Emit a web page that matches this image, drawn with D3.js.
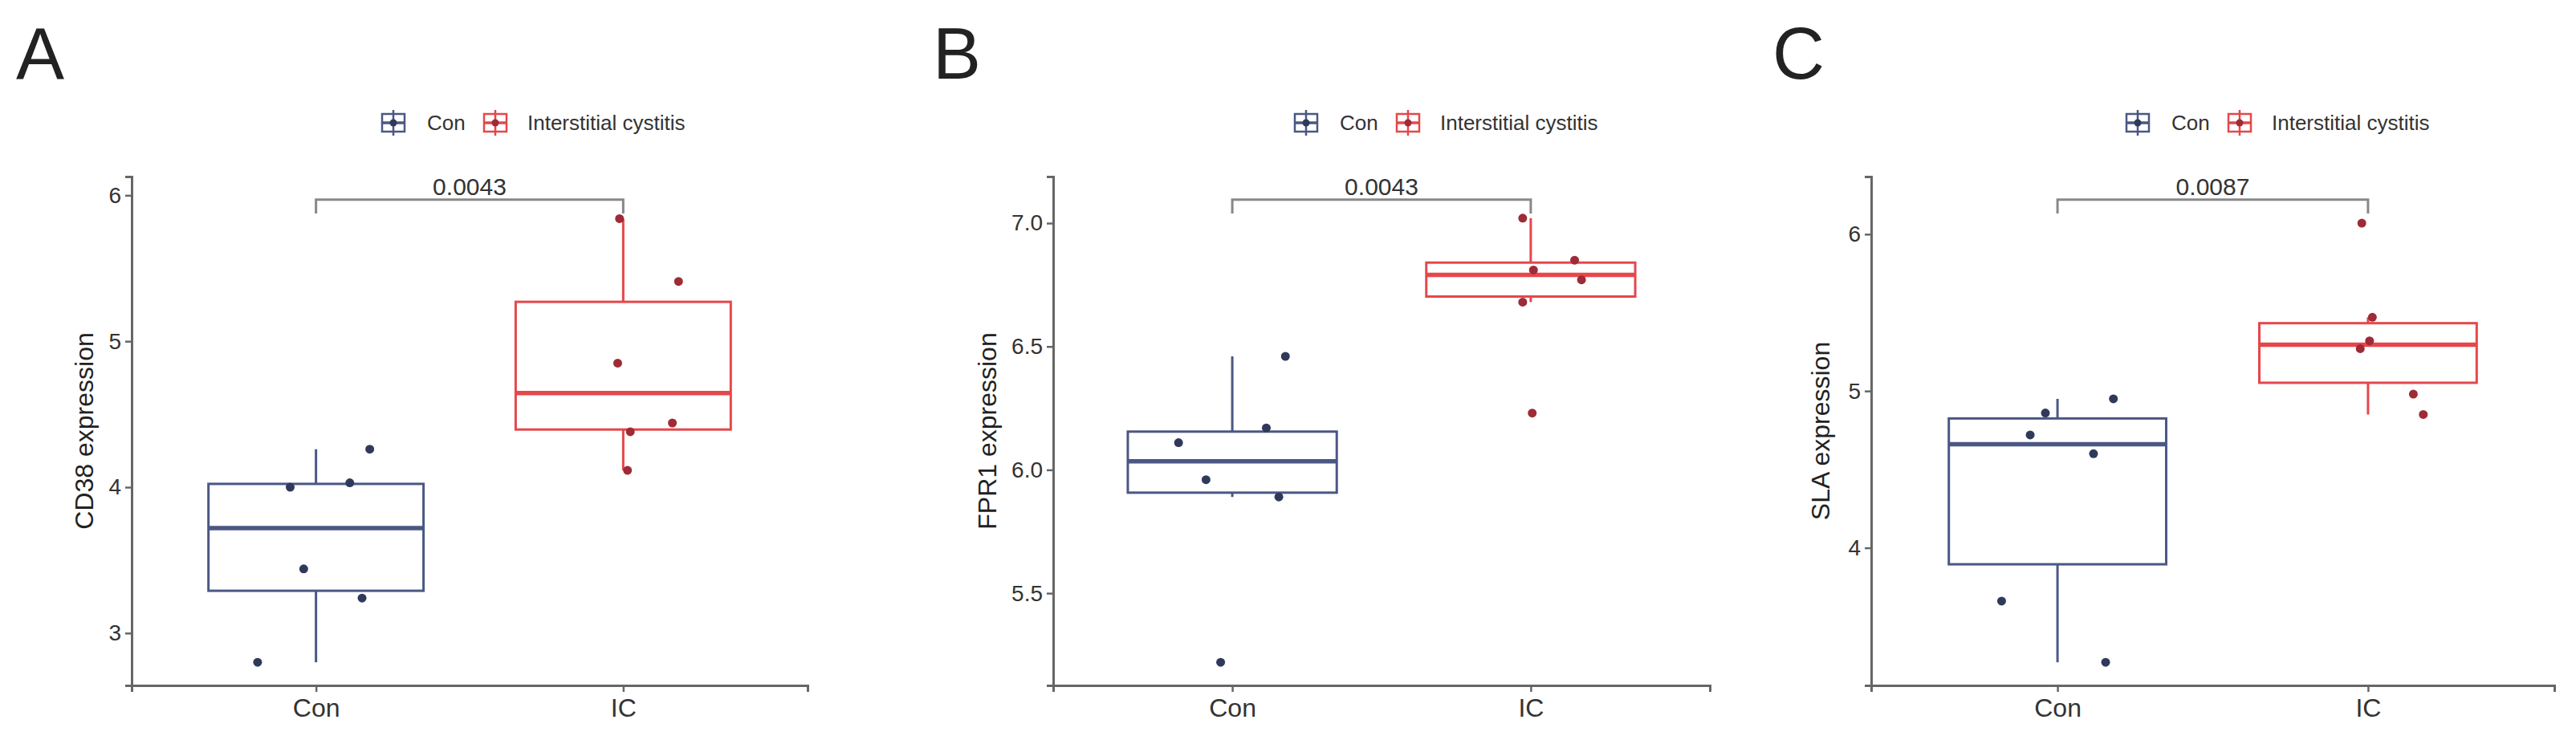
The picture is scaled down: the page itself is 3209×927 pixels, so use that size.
<!DOCTYPE html>
<html>
<head>
<meta charset="utf-8">
<script src="https://cdn.jsdelivr.net/npm/d3@7"></script>
<style>
  html, body { margin: 0; padding: 0; background: #fff; }
  svg { display: block; font-family: "Liberation Sans", Arial, sans-serif; }
</style>
</head>
<body>
<svg id="chart" width="3209" height="927"></svg>
<script>
// ---------------- DATA ----------------
const groups = ["Con", "IC"];
const legendLabels = ["Con", "Interstitial cystitis"];
const panelLetters = ["A", "B", "C"];
const yTitles = ["CD38 expression", "FPR1 expression", "SLA expression"];
const pValues = ["0.0043", "0.0043", "0.0087"];
const bracketValues = [5.97, 7.095, 6.22];

// expression values per sample
const conA = [2.80, 4.00, 3.44, 4.03, 3.24, 4.26];
const icA  = [5.84, 5.41, 4.85, 4.44, 4.38, 4.115];
const conB = [6.11, 5.96, 6.17, 5.89, 6.46, 5.22];
const icB  = [7.02, 6.81, 6.85, 6.77, 6.68, 6.23];
const conC = [3.66, 3.27, 4.72, 4.86, 4.60, 4.95];
const icC  = [6.07, 5.47, 5.32, 5.27, 4.98, 4.85];

// horizontal jitter of each sample (fraction of category step)
const jitConA = [-0.19, -0.084, -0.04, 0.11, 0.15, 0.175];
const jitIcA  = [-0.012, 0.18, -0.018, 0.16, 0.023, 0.014];
const jitConB = [-0.18, -0.088, 0.114, 0.156, 0.178, -0.039];
const jitIcB  = [-0.027, 0.009, 0.147, 0.17, -0.027, 0.005];
const jitConC = [-0.18, 0.155, -0.088, -0.039, 0.116, 0.18];
const jitIcC  = [-0.02, 0.014, 0.005, -0.025, 0.146, 0.178];

const yTicksA = [3, 4, 5, 6];
const yTicksB = [5.5, 6.0, 6.5, 7.0];
const yTicksC = [4, 5, 6];

// ---------------- LAYOUT / STYLE ----------------
const panelsCfg = [
  { x0: 164,  x1: 1006, letterX: 20,   legendX: 475,  titleX: 105,  ticks: yTicksA, fmt: d3.format("d"),
    values: [conA, icA], jit: [jitConA, jitIcA] },
  { x0: 1312, x1: 2130, letterX: 1162, legendX: 1612, titleX: 1230, ticks: yTicksB, fmt: d3.format(".1f"),
    values: [conB, icB], jit: [jitConB, jitIcB] },
  { x0: 2331, x1: 3182, letterX: 2208, legendX: 2648, titleX: 2268, ticks: yTicksC, fmt: d3.format("d"),
    values: [conC, icC], jit: [jitConC, jitIcC] }
];
const yTop = 220, yBottom = 854;
const boxColors = ["#4B5784", "#E5474B"];
const pointColors = ["#2F3A5A", "#9E2B36"];
const axisColor = "#666";
const textColor = "#333";

const svg = d3.select("#chart");

panelsCfg.forEach((cfg, pi) => {
  const g = svg.append("g");
  const allVals = cfg.values.flat();
  const dmin = d3.min(allVals);
  const dmax = bracketValues[pi];
  const R = dmax - dmin;
  const y = d3.scaleLinear().domain([dmin - 0.05 * R, dmax + 0.05 * R]).range([yBottom, yTop]);
  const x = d3.scalePoint().domain(groups).range([cfg.x0, cfg.x1]).padding(0.6);
  const step = x.step();
  const bw = 0.7 * step;

  // panel letter
  g.append("text").attr("x", cfg.letterX).attr("y", 98)
    .attr("font-size", 90).attr("fill", "#222").text(panelLetters[pi]);

  // boxes
  groups.forEach((grp, gi) => {
    const vals = cfg.values[gi].slice().sort(d3.ascending);
    const q1 = d3.quantile(vals, 0.25), med = d3.quantile(vals, 0.5), q3 = d3.quantile(vals, 0.75);
    const iqr = q3 - q1;
    const lo = d3.min(vals.filter(v => v >= q1 - 1.5 * iqr));
    const hi = d3.max(vals.filter(v => v <= q3 + 1.5 * iqr));
    const cx = x(grp);
    const col = boxColors[gi];
    g.append("line").attr("x1", cx).attr("x2", cx).attr("y1", y(q3)).attr("y2", y(hi))
      .attr("stroke", col).attr("stroke-width", 3);
    g.append("line").attr("x1", cx).attr("x2", cx).attr("y1", y(q1)).attr("y2", y(lo))
      .attr("stroke", col).attr("stroke-width", 3);
    g.append("rect").attr("x", cx - bw / 2).attr("y", y(q3)).attr("width", bw).attr("height", y(q1) - y(q3))
      .attr("fill", "none").attr("stroke", col).attr("stroke-width", 3);
    g.append("line").attr("x1", cx - bw / 2).attr("x2", cx + bw / 2).attr("y1", y(med)).attr("y2", y(med))
      .attr("stroke", col).attr("stroke-width", 5.5);
    // jittered points
    g.selectAll(null).data(cfg.values[gi]).enter().append("circle")
      .attr("cx", (d, i) => cx + cfg.jit[gi][i] * step)
      .attr("cy", d => y(d))
      .attr("r", 5.5)
      .attr("fill", pointColors[gi]);
  });

  // axes
  const yAxis = g.append("g").attr("transform", `translate(${cfg.x0},0)`)
    .call(d3.axisLeft(y).tickValues(cfg.ticks).tickFormat(cfg.fmt).tickSizeOuter(0).tickSize(8).tickPadding(5));
  yAxis.select(".domain").attr("stroke", axisColor).attr("stroke-width", 3);
  yAxis.selectAll(".tick line").attr("stroke", axisColor).attr("stroke-width", 2.5);
  yAxis.selectAll(".tick text").attr("font-size", 28).attr("fill", textColor)
    .attr("font-family", "Liberation Sans, Arial, sans-serif");

  const xAxis = g.append("g").attr("transform", `translate(0,${yBottom})`)
    .call(d3.axisBottom(x).tickSizeOuter(0).tickSize(8).tickPadding(8));
  xAxis.select(".domain").attr("stroke", axisColor).attr("stroke-width", 3);
  xAxis.selectAll(".tick line").attr("stroke", axisColor).attr("stroke-width", 2.5);
  xAxis.selectAll(".tick text").attr("font-size", 32).attr("fill", textColor)
    .attr("font-family", "Liberation Sans, Arial, sans-serif");

  // y-axis title
  g.append("text").attr("transform", `translate(${cfg.titleX},${(yTop + yBottom) / 2}) rotate(-90)`)
    .attr("text-anchor", "middle").attr("dominant-baseline", "central")
    .attr("font-size", 32).attr("fill", "#222").text(yTitles[pi]);

  // significance bracket
  const by = y(bracketValues[pi]);
  const tip = y(bracketValues[pi] - 0.03 * R) - by;
  const bx1 = x(groups[0]), bx2 = x(groups[1]);
  g.append("path")
    .attr("d", `M${bx1},${by + tip}V${by}H${bx2}V${by + tip}`)
    .attr("fill", "none").attr("stroke", "#888").attr("stroke-width", 3);
  g.append("text").attr("x", (bx1 + bx2) / 2).attr("y", by - 6)
    .attr("text-anchor", "middle").attr("font-size", 30).attr("fill", textColor).text(pValues[pi]);

  // legend
  const lg = g.append("g").attr("transform", `translate(${cfg.legendX},153)`);
  const offsets = [0, 127];
  const textOffsets = [57, 182];
  legendLabels.forEach((lab, li) => {
    const kx = offsets[li];
    const col = boxColors[li];
    const k = lg.append("g").attr("transform", `translate(${kx},0)`);
    k.append("line").attr("x1", 15).attr("x2", 15).attr("y1", -16).attr("y2", 16)
      .attr("stroke", col).attr("stroke-width", 2.5);
    k.append("rect").attr("x", 1).attr("y", -11).attr("width", 28).attr("height", 22)
      .attr("fill", "#fff").attr("stroke", col).attr("stroke-width", 2.5);
    k.append("line").attr("x1", 1).attr("x2", 29).attr("y1", 0).attr("y2", 0)
      .attr("stroke", col).attr("stroke-width", 3.5);
    k.append("line").attr("x1", 15).attr("x2", 15).attr("y1", -11).attr("y2", 11)
      .attr("stroke", col).attr("stroke-width", 2.5);
    k.append("circle").attr("cx", 15).attr("cy", 0).attr("r", 4.5).attr("fill", pointColors[li]);
    lg.append("text").attr("x", textOffsets[li]).attr("y", 0).attr("dominant-baseline", "central")
      .attr("font-size", 26).attr("fill", textColor).text(lab);
  });
});
</script>
</body>
</html>
